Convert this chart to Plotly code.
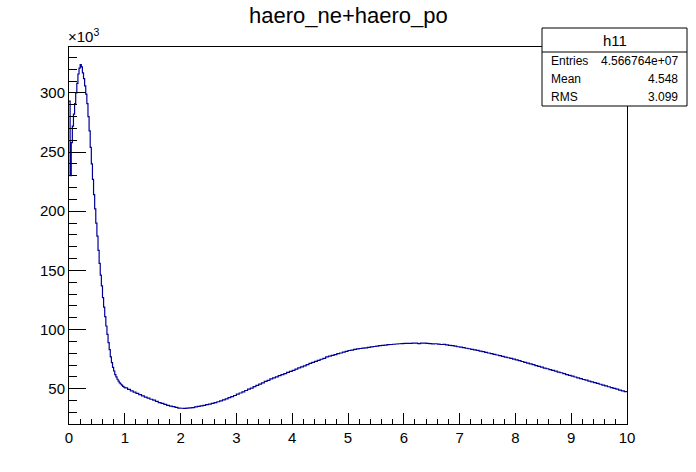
import numpy as np
import plotly.graph_objects as go

# ---- data (counts in units of 10^3) ----
# fine bins 0.00-1.00, width 0.02
fine_counts = [
    293, 230, 258, 272, 282, 291, 300, 308, 316, 321,
    324, 322, 317, 312, 306, 299, 291, 280, 268, 254,
    240, 227, 214, 202, 190, 179, 167, 156, 146, 137,
    127, 119, 111, 103, 96, 89, 83, 77, 72, 68,
    65, 62, 60, 58, 56.5, 55, 54, 53, 52, 51.3,
]
# coarse bins 1.00-10.00, width 0.05
coarse_counts = [
    50.8, 49.5, 48.2, 47.2, 46.0, 45.0, 43.9, 42.9, 42.1, 41.1, 40.3, 39.4, 38.3, 37.6, 36.8, 36.0, 35.3, 34.8, 34.2, 33.7,
    33.5, 33.4, 33.6, 33.9, 34.1, 34.6, 35.1, 35.6, 35.9, 36.5, 37.0, 37.6, 38.2, 39.0, 39.7, 40.6, 41.4, 42.5, 43.3, 44.3,
    45.4, 46.4, 47.4, 48.5, 49.6, 50.6, 51.8, 52.8, 53.9, 55.0, 56.2, 57.1, 58.3, 59.2, 60.1, 61.0, 61.9, 62.8, 63.8, 64.7,
    65.6, 66.5, 67.6, 68.5, 69.4, 70.3, 71.5, 72.3, 73.2, 74.0, 74.9, 75.6, 76.9, 77.6, 78.2, 78.9, 79.6, 80.2, 80.9, 81.6,
    82.3, 82.6, 83.2, 83.7, 84.0, 84.4, 84.6, 85.0, 85.3, 85.7, 86.0, 86.4, 86.6, 86.9, 87.2, 87.4, 87.6, 87.8, 88.0, 88.1,
    88.3, 88.4, 88.4, 88.5, 88.6, 88.2, 88.6, 88.5, 88.3, 88.2, 87.9, 88.0, 87.7, 87.4, 87.5, 87.0, 86.7, 86.4, 86.0, 85.5,
    85.1, 84.7, 84.2, 83.8, 83.3, 82.8, 82.4, 81.8, 81.3, 80.7, 80.2, 79.6, 79.1, 78.5, 78.0, 77.4, 76.8, 76.2, 75.7, 75.0,
    74.4, 73.8, 73.0, 72.3, 71.6, 71.0, 70.3, 69.6, 68.9, 68.2, 67.5, 66.9, 66.2, 65.5, 64.8, 64.1, 63.5, 62.8, 62.0, 61.3,
    60.6, 59.9, 59.2, 58.5, 57.8, 57.2, 56.5, 55.8, 55.1, 54.5, 53.8, 53.1, 52.4, 51.7, 51.0, 50.3, 49.6, 48.9, 48.2, 47.5,
]
title_text = "haero_ne+haero_po"
stats_name = "h11"
stats_labels = ["Entries", "Mean", "RMS"]
stats_values = ["4.566764e+07", "4.548", "3.099"]

# bin edges
fine_edges = np.round(np.arange(len(fine_counts)) * 0.02, 4)
coarse_edges = np.round(1.0 + np.arange(len(coarse_counts)) * 0.05, 4)
x_left = list(fine_edges) + list(coarse_edges)
counts = fine_counts + coarse_counts
x_step = x_left + [10.0]
y_step = counts + [counts[-1]]

FONT = "Liberation Sans, Arial, Helvetica, sans-serif"
W, H = 696, 472
L, R, T, B = 69, 69, 47, 48
pw, ph = W - L - R, H - T - B

def px(xp):
    return (xp - L) / pw

def py(yp):
    return (H - B - yp) / ph

fig = go.Figure()
fig.add_trace(go.Scatter(
    x=x_step, y=y_step, mode="lines", line=dict(color="#000099", width=1.2, shape="hv"),
    hoverinfo="skip", showlegend=False,
))

fig.update_layout(
    width=W, height=H,
    margin=dict(l=L, r=R, t=T, b=B),
    paper_bgcolor="white", plot_bgcolor="white",
    font=dict(family=FONT, color="black", size=15),
    showlegend=False,
    xaxis=dict(
        range=[0, 10], showgrid=False, zeroline=False,
        showline=True, linecolor="black", linewidth=1, mirror=True,
        ticks="inside", ticklen=11, tickcolor="black", tickwidth=1,
        tick0=0, dtick=1, tickfont=dict(size=15, family=FONT),
        minor=dict(ticks="inside", ticklen=5, dtick=0.2, tickcolor="black", tickwidth=1, showgrid=False),
    ),
    yaxis=dict(
        range=[20.2, 338.8], showgrid=False, zeroline=False,
        showline=True, linecolor="black", linewidth=1, mirror=True,
        ticks="inside", ticklen=17, tickcolor="black", tickwidth=1,
        tick0=0, dtick=50, tickfont=dict(size=15, family=FONT),
        minor=dict(ticks="inside", ticklen=8, dtick=10, tickcolor="black", tickwidth=1, showgrid=False),
    ),
)

annotations = [
    dict(text=title_text, xref="paper", yref="paper", x=px(348), y=py(16),
         xanchor="center", yanchor="middle", showarrow=False, font=dict(size=22, family=FONT)),
    dict(text="×10<sup>3</sup>", xref="paper", yref="paper", x=px(66), y=py(47),
         xanchor="left", yanchor="bottom", showarrow=False, font=dict(size=15, family=FONT)),
]

# stats box
bx0, bx1, by0, by1, bsep = 542, 687, 28, 106, 52
shapes = [
    dict(type="rect", xref="paper", yref="paper", x0=px(bx0), x1=px(bx1), y0=py(by1), y1=py(by0),
         line=dict(color="black", width=1), fillcolor="white", layer="above"),
    dict(type="line", xref="paper", yref="paper", x0=px(bx0), x1=px(bx1), y0=py(bsep), y1=py(bsep),
         line=dict(color="black", width=1), layer="above"),
]
annotations.append(dict(text=stats_name, xref="paper", yref="paper", x=px((bx0 + bx1) / 2), y=py(40.5),
                        xanchor="center", yanchor="middle", showarrow=False, font=dict(size=15, family=FONT)))
row_y = [61, 79, 97]
for lab, val, yy in zip(stats_labels, stats_values, row_y):
    annotations.append(dict(text=lab, xref="paper", yref="paper", x=px(549), y=py(yy),
                            xanchor="left", yanchor="middle", showarrow=False, font=dict(size=12, family=FONT)))
    annotations.append(dict(text=val, xref="paper", yref="paper", x=px(680), y=py(yy),
                            xanchor="right", yanchor="middle", showarrow=False, font=dict(size=12, family=FONT)))

fig.update_layout(shapes=shapes, annotations=annotations)
fig.write_html("out.html", config={"displayModeBar": False},
               post_script="document.body.style.margin='0';document.body.style.padding='0';")
